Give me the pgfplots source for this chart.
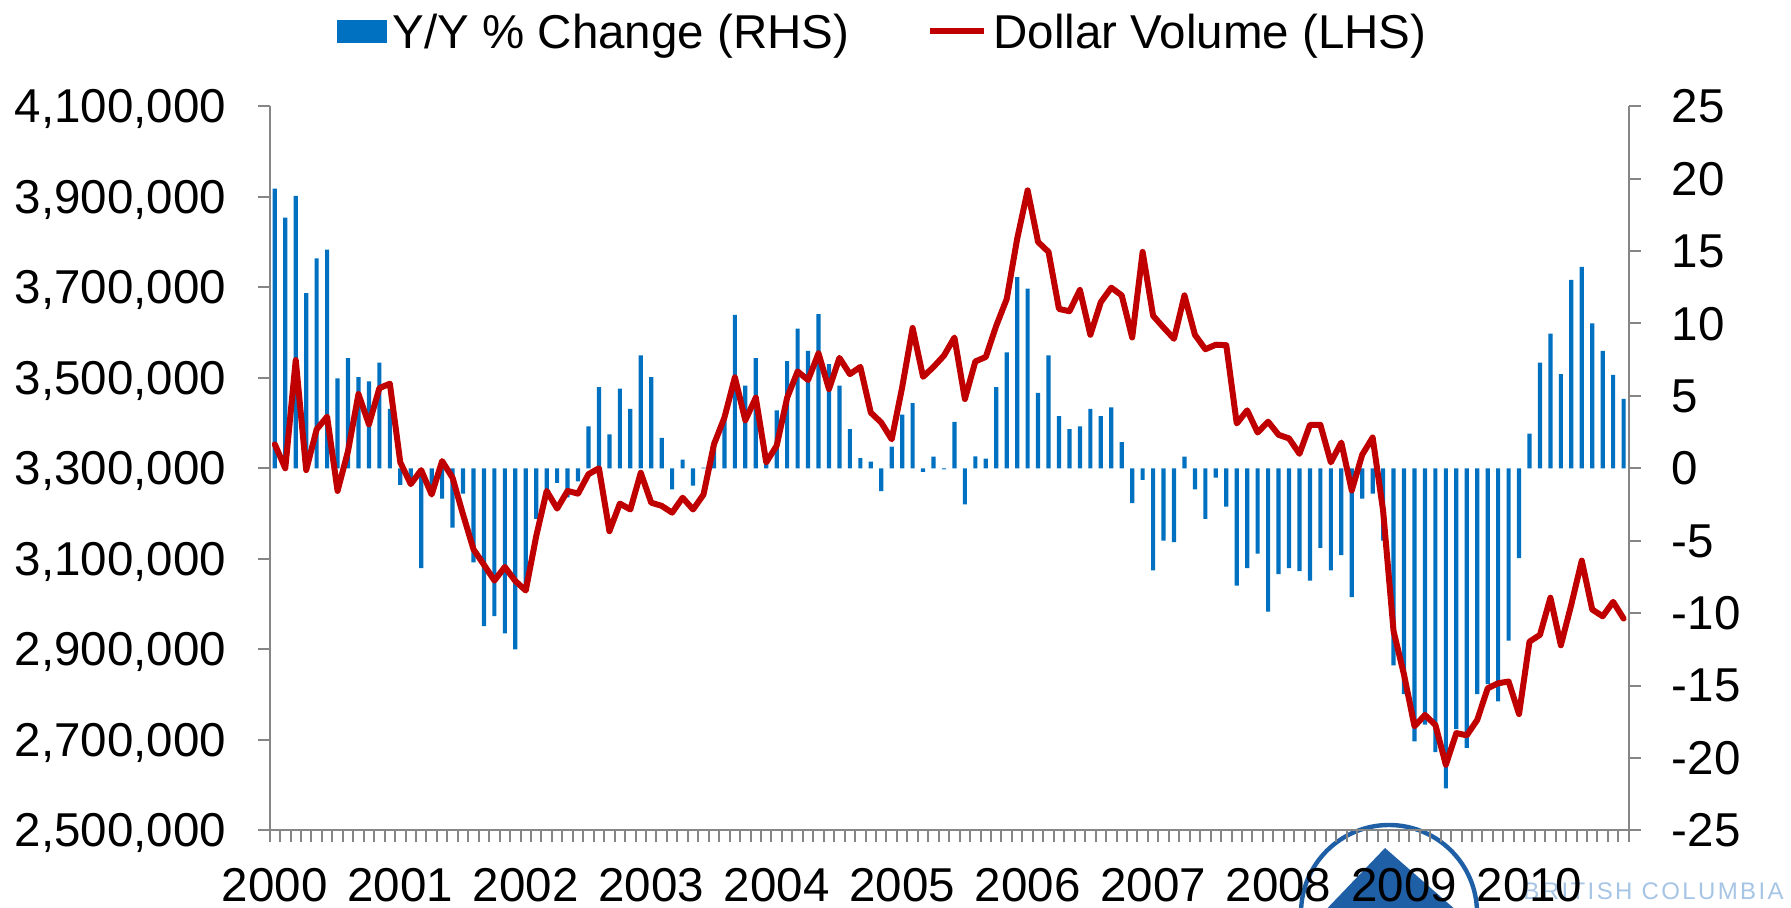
\documentclass[border=0pt]{standalone}
\usepackage{fontspec}
\setmainfont{Liberation Sans}
\usepackage{pgfplots}
\usepackage{pgfplotstable}
\pgfplotsset{compat=1.18}
\definecolor{bblue}{HTML}{0070C0}
\definecolor{lred}{HTML}{C00000}
\definecolor{axgray}{HTML}{868686}
\definecolor{logoblue}{HTML}{1F5FA6}
\definecolor{logolight}{HTML}{A6C4E4}

\pgfplotstableread{
m yoy vol
0 19.3 3353000
1 17.3 3300000
2 18.8 3539000
3 12.1 3296000
4 14.5 3386000
5 15.1 3414000
6 6.2 3250000
7 7.6 3338000
8 6.3 3464000
9 6.0 3397000
10 7.3 3477000
11 4.1 3487000
12 -1.15 3313000
13 -0.8 3265000
14 -6.9 3296000
15 -1.5 3242000
16 -2.1 3316000
17 -4.1 3279000
18 -1.75 3198000
19 -6.5 3121000
20 -10.9 3087000
21 -10.2 3052000
22 -11.4 3082000
23 -12.5 3051000
24 -8.0 3030000
25 -3.5 3150000
26 -1.45 3250000
27 -1.0 3211000
28 -2.0 3250000
29 -0.9 3244000
30 2.9 3287000
31 5.6 3300000
32 2.35 3161000
33 5.5 3222000
34 4.1 3209000
35 7.8 3290000
36 6.3 3224000
37 2.1 3217000
38 -1.45 3202000
39 0.6 3235000
40 -1.2 3209000
41 0.05 3242000
42 1.9 3353000
43 3.5 3412000
44 10.6 3501000
45 5.7 3406000
46 7.6 3456000
47 0.5 3313000
48 4.0 3350000
49 7.4 3456000
50 9.65 3514000
51 8.1 3495000
52 10.65 3554000
53 7.2 3475000
54 5.7 3544000
55 2.7 3508000
56 0.7 3524000
57 0.46 3423000
58 -1.57 3401000
59 1.5 3364000
60 3.7 3479000
61 4.5 3610000
62 -0.25 3502000
63 0.8 3524000
64 -0.07 3549000
65 3.2 3589000
66 -2.5 3453000
67 0.83 3536000
68 0.67 3546000
69 5.6 3615000
70 8.0 3674000
71 13.2 3807000
72 12.4 3914000
73 5.2 3800000
74 7.8 3778000
75 3.6 3652000
76 2.7 3647000
77 2.9 3694000
78 4.1 3595000
79 3.6 3667000
80 4.2 3699000
81 1.8 3682000
82 -2.4 3589000
83 -0.8 3778000
84 -7.05 3637000
85 -5.0 3611000
86 -5.1 3586000
87 0.8 3682000
88 -1.45 3595000
89 -3.5 3563000
90 -0.65 3573000
91 -2.65 3572000
92 -8.1 3399000
93 -6.9 3428000
94 -5.9 3379000
95 -9.9 3403000
96 -7.3 3374000
97 -6.9 3366000
98 -7.1 3332000
99 -7.75 3396000
100 -5.5 3396000
101 -7.05 3313000
102 -6.0 3357000
103 -8.9 3251000
104 -2.1 3330000
105 -1.75 3368000
106 -5.0 3206000
107 -13.6 2940000
108 -15.6 2844000
109 -18.85 2730000
110 -17.7 2755000
111 -19.6 2733000
112 -22.1 2645000
113 -18.0 2715000
114 -19.3 2710000
115 -15.6 2744000
116 -14.9 2814000
117 -16.1 2825000
118 -11.9 2829000
119 -6.2 2757000
120 2.4 2917000
121 7.3 2932000
122 9.3 3014000
123 6.5 2909000
124 13.0 2999000
125 13.9 3096000
126 10.0 2988000
127 8.1 2973000
128 6.45 3005000
129 4.8 2968000
}\datatable

\pgfplotsset{common/.style={
  at={(134.8pt,38.8pt)}, anchor=south west,
  scale only axis, width=679.6pt, height=362.1pt,
  xmin=-0.5, xmax=129.5, enlargelimits=false,
  axis line style={-, draw=axgray, line width=1pt},
  tick style={draw=axgray, line width=1pt},
  tick align=outside,
  major tick length=6pt, minor tick length=6pt,
  every tick label/.append style={font=\fontsize{23.75}{28}\selectfont, text=black},
}}

\begin{document}
\begin{tikzpicture}
\useasboundingbox (0pt,0pt) rectangle (895.5pt,454pt);
\begin{scope}[x=0.5pt,y=0.5pt]
\clip (0,0) rectangle (1791,908);
\draw[logoblue, line width=2.2pt] (1389,-5) circle[radius=44pt];
\fill[logoblue] (1385,60) -- (1465,-10) -- (1318,-10) -- cycle;
\node[anchor=base west, inner sep=0pt, text=logolight, font=\fontsize{12}{12}\selectfont\addfontfeature{LetterSpace=10}] at (1523,8) {BRITISH COLUMBIA};
\end{scope}

\begin{axis}[common,
  axis y line*=right, axis x line=none,
  ymin=-25, ymax=25, ytick={-25,-20,...,25},
  yticklabels={-25,-20,-15,-10,-5,0,5,10,15,20,25},
  yticklabel style={anchor=west, inner sep=0pt, text depth=0pt, xshift=15.3pt},
  legend columns=2,
  legend style={at={(0.4502,1.1038)}, anchor=center, draw=none, fill=none,
    inner sep=0pt, outer sep=0pt,
    font=\fontsize{23.75}{28}\selectfont,
    nodes={inner sep=0pt, text depth=0pt},
    /tikz/every odd column/.append style={column sep=3pt},
    /tikz/every even column/.append style={column sep=39pt}},
]
\addplot[ybar, bar width=0.4, fill=bblue, draw=none,
  legend image code/.code={\fill[bblue] (0pt,-5.75pt) rectangle (25pt,5.75pt);}]
  table[x=m, y=yoy]{\datatable};
\addlegendentry{Y/Y \% Change (RHS)}
\addlegendimage{legend image code/.code={\draw[lred, line width=3pt] (0pt,0pt) -- (27pt,0pt);}}
\addlegendentry{Dollar Volume (LHS)}
\end{axis}

\begin{axis}[common,
  axis y line*=left, axis x line*=bottom,
  ymin=2500000, ymax=4100000, ytick={2500000,2700000,...,4100000},
  scaled y ticks=false,
  yticklabels={{2,500,000},{2,700,000},{2,900,000},{3,100,000},{3,300,000},{3,500,000},{3,700,000},{3,900,000},{4,100,000}},
  yticklabel style={anchor=east, inner sep=0pt, text depth=0pt, xshift=-15.6pt},
  xtick={-0.5,0.5,...,129.5}, xticklabels={},
  extra x ticks={0,12,...,120},
  extra x tick labels={2000,2001,2002,2003,2004,2005,2006,2007,2008,2009,2010},
  extra x tick style={major tick length=0pt, xticklabel style={anchor=north, inner sep=0pt, text depth=0pt, yshift=-18.8pt}},
]
\addplot[lred, line width=3pt, line join=round, line cap=round, mark=none]
  table[x=m, y=vol]{\datatable};
\end{axis}
\end{tikzpicture}
\end{document}
